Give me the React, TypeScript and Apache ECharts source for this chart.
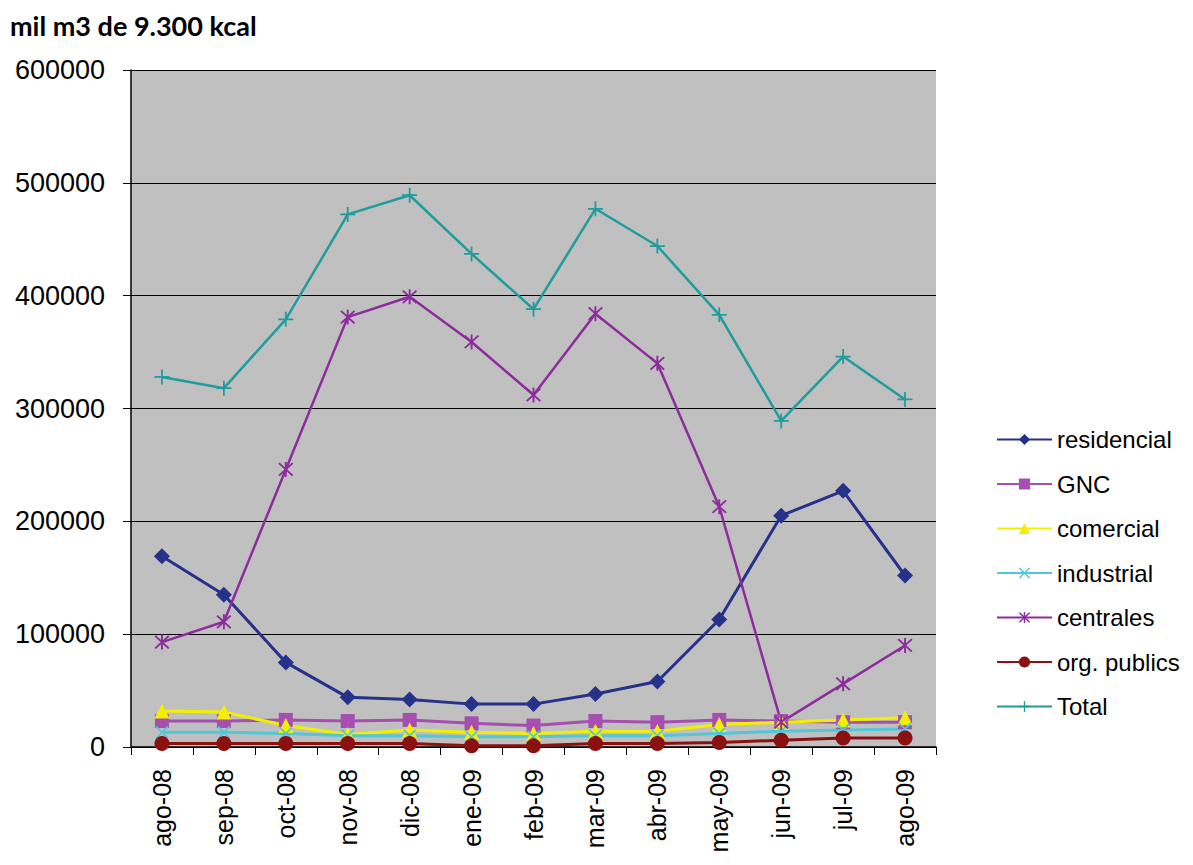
import React, { useEffect, useRef } from "react";
import * as echarts from "echarts";

const categories = ["ago-08", "sep-08", "oct-08", "nov-08", "dic-08", "ene-09", "feb-09", "mar-09", "abr-09", "may-09", "jun-09", "jul-09", "ago-09"];
const residencial = [169000, 135000, 75000, 44000, 42000, 38000, 38000, 47000, 58000, 113000, 205000, 227000, 152000];
const gnc = [23000, 23000, 24000, 23000, 24000, 21000, 19000, 23000, 22000, 24000, 23000, 22000, 22000];
const comercial = [32000, 31000, 19000, 11000, 15000, 13000, 12000, 14000, 14000, 20000, 22000, 24000, 26000];
const industrial = [13000, 13000, 12000, 10000, 10000, 9000, 9000, 10000, 10000, 12000, 14000, 15000, 16000];
const centrales = [93000, 111000, 246000, 381000, 399000, 359000, 312000, 384000, 340000, 213000, 22000, 56000, 90000];
const orgPublics = [3000, 3000, 3000, 3000, 3000, 1000, 1000, 3000, 3000, 4000, 6000, 8000, 8000];
const total = [328000, 318000, 379000, 472000, 489000, 437000, 388000, 477000, 444000, 383000, 289000, 346000, 308000];

const X_SYM = "path://M-4.5,-5.5 L5.5,4.5 L4.5,5.5 L-5.5,-4.5 Z M5.5,-4.5 L-4.5,5.5 L-5.5,4.5 L4.5,-5.5 Z";
const AST_SYM = "path://M-4.5,-5.5 L5.5,4.5 L4.5,5.5 L-5.5,-4.5 Z M5.5,-4.5 L-4.5,5.5 L-5.5,4.5 L4.5,-5.5 Z M-0.7,-6 L0.7,-6 L0.7,6 L-0.7,6 Z";
const PLUS_SYM = "path://M-0.7,-6 L0.7,-6 L0.7,-0.7 L6,-0.7 L6,0.7 L0.7,0.7 L0.7,6 L-0.7,6 L-0.7,0.7 L-6,0.7 L-6,-0.7 L-0.7,-0.7 Z";

const FONT = "Liberation Sans, Arial";

export default function App() {
  const ref = useRef<HTMLDivElement>(null);
  useEffect(() => {
    const chart = echarts.init(ref.current!, null, { renderer: "svg" });
    const mk = (name: string, data: number[], color: string, symbol: string, size: number, width = 3) => ({
      name,
      type: "line",
      data,
      symbol,
      symbolSize: size,
      lineStyle: { color, width },
      itemStyle: { color },
    });
    chart.setOption({
      animation: false,
      backgroundColor: "#ffffff",
      title: {
        text: "mil m3 de 9.300 kcal",
        left: 2,
        top: 2,
        padding: 0,
        textStyle: { fontFamily: "Lato", fontWeight: "bold", fontSize: 27, lineHeight: 30, color: "#000" },
      },
      legend: {
        orient: "vertical",
        left: 983,
        top: 414,
        itemWidth: 55,
        itemHeight: 14,
        itemGap: 19.5,
        textStyle: { fontFamily: FONT, fontSize: 24, lineHeight: 25, color: "#000" },
        data: ["residencial", "GNC", "comercial", "industrial", "centrales", "org. publics", "Total"],
      },
      grid: {
        left: 123, right: 249, top: 62, bottom: 110,
        outerBoundsMode: "none",
        containLabel: false,
        backgroundColor: "#c0c0c0", show: true, borderWidth: 0,
      },
      xAxis: {
        type: "category",
        data: categories,
        boundaryGap: true,
        axisLine: { lineStyle: { color: "#000", width: 1.5 } },
        axisTick: { show: true, length: 8, lineStyle: { color: "#000" } },
        axisLabel: { rotate: 90, fontFamily: FONT, fontSize: 25, color: "#000", margin: 22 },
      },
      yAxis: {
        type: "value",
        min: 0,
        max: 600000,
        interval: 100000,
        axisLine: { show: true, lineStyle: { color: "#000", width: 1.5 } },
        axisTick: { show: true, length: 8, lineStyle: { color: "#000" } },
        splitLine: { show: true, lineStyle: { color: "#000", width: 1 } },
        axisLabel: { fontFamily: FONT, fontSize: 27, color: "#000", margin: 26, formatter: (v: number) => String(v) },
      },
      series: [
        mk("residencial", residencial, "#26318a", "diamond", 16),
        mk("GNC", gnc, "#a64fb0", "rect", 14),
        mk("comercial", comercial, "#f2f000", "triangle", 15),
        mk("industrial", industrial, "#4fc8da", X_SYM, 13),
        mk("centrales", centrales, "#8d2c9c", AST_SYM, 15, 2.5),
        mk("org. publics", orgPublics, "#8b1111", "circle", 15),
        mk("Total", total, "#1f9c9c", PLUS_SYM, 15, 2.5),
      ],
    });
    return () => chart.dispose();
  }, []);
  return <div ref={ref} style={{ width: 1177, height: 849 }} />;
}
